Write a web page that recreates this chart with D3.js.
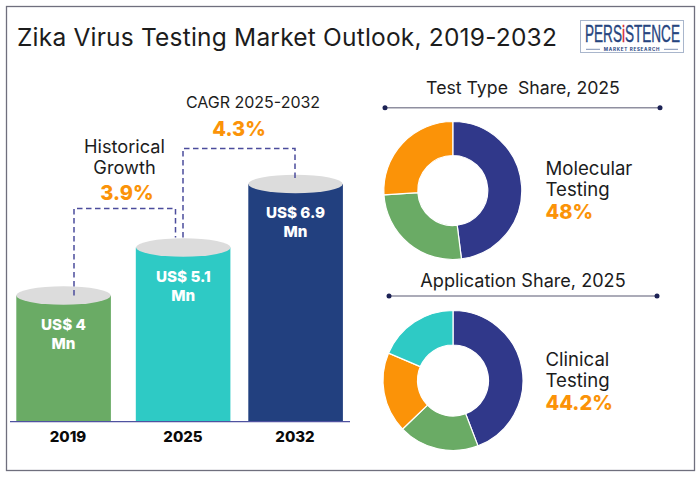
<!DOCTYPE html>
<html>
<head>
<meta charset="utf-8">
<script src="https://cdn.jsdelivr.net/npm/d3@7"></script>
<style>
  html, body { margin: 0; padding: 0; background: #fff; }
  svg { display: block; }
  text { font-family: Inter, "Open Sans", sans-serif; }
</style>
</head>
<body>
<div id="chart"></div>
<script>
'use strict';

// market size, US$ Mn
const years = ["2019", "2025", "2032"];
const marketValues = [4, 5.1, 6.9];
const marketLabels = [["US$ 4", "Mn"], ["US$ 5.1", "Mn"], ["US$ 6.9", "Mn"]];

// test type share, 2025 (%)
const testTypeShares = [48, 26, 26];

// application share, 2025 (%)
const applicationShares = [44.2, 18.6, 18.6, 18.6];

const NAVY = "#30388a", GREEN = "#6aab65", ORANGE = "#fb9308", TEAL = "#2ecac5", DARKBLUE = "#22407f";
const INK = "#1c1c1c";

let svg = d3.select("#chart").append("svg")
    .attr("width", 700)
    .attr("height", 477);

svg.append("rect")
    .attr("x", 6.5).attr("y", 6.5)
    .attr("width", 688).attr("height", 464)
    .attr("fill", "#fff")
    .attr("stroke", "#6f6f7d")
    .attr("stroke-width", 1.3);

function label(x, y, str, opts) {
    opts = opts || {};
    return svg.append("text")
        .attr("x", x).attr("y", y)
        .attr("text-anchor", opts.anchor || "middle")
        .attr("font-size", opts.size || 17)
        .attr("font-weight", opts.weight || 400)
        .attr("letter-spacing", opts.spacing || 0)
        .attr("fill", opts.fill || INK)
        .text(str);
}

label(17, 46, "Zika Virus Testing Market Outlook, 2019-2032", {anchor: "start", size: 24.5, spacing: 0.2});

// logo
svg.append("rect")
    .attr("x", 580.5).attr("y", 20.5)
    .attr("width", 103).attr("height", 32)
    .attr("fill", "#fff")
    .attr("stroke", "#a9b6cc");
let logo = svg.append("text")
    .attr("font-size", 23)
    .attr("fill", "#27457f")
    .attr("stroke", "#27457f")
    .attr("stroke-width", 0.4)
    .style("font-family", "'Liberation Sans Narrow', 'Liberation Sans', sans-serif");
logo.append("tspan").text("PERS");
logo.append("tspan").attr("fill", "#d5262c").attr("stroke", "#d5262c").text("i");
logo.append("tspan").text("STENCE");
// squeeze the wordmark into the logo box
logo.attr("transform", "translate(585,41.7) scale(" + (95 / logo.node().getComputedTextLength()) + ",1)");
svg.append("text")
    .attr("x", 632).attr("y", 50.8)
    .attr("text-anchor", "middle")
    .attr("font-size", 4.6)
    .attr("font-weight", 700)
    .attr("letter-spacing", 0.7)
    .attr("fill", "#27457f")
    .text("MARKET RESEARCH");
[[586, 600], [664, 678]].forEach(function(d) {
    svg.append("line")
        .attr("x1", d[0]).attr("x2", d[1])
        .attr("y1", 49.3).attr("y2", 49.3)
        .attr("stroke", "#27457f")
        .attr("stroke-width", 0.6);
});

// bars: the source drawing is not to a true scale, so the value scale has stops
const baseY = 421.3;
let xLeft = d3.scaleOrdinal().domain(years).range([16.3, 135.8, 248.3]);
let xCenter = d3.scaleOrdinal().domain(years).range([63.5, 183.3, 295.5]);
let y = d3.scaleLinear().domain([0, 4, 5.1, 6.9]).range([baseY, 295.5, 247.5, 184]);
const barWidth = 94.6;
const capRy = 9.2;
const barColor = d3.scaleOrdinal().domain(years).range([GREEN, TEAL, DARKBLUE]);

let bars = svg.append("g").selectAll("g")
    .data(years.map(function(d, i) { return {year: d, value: marketValues[i], text: marketLabels[i]}; }))
    .enter().append("g");

bars.append("rect")
    .attr("x", function(d) { return xLeft(d.year); })
    .attr("y", function(d) { return y(d.value); })
    .attr("width", barWidth)
    .attr("height", function(d) { return baseY - y(d.value); })
    .attr("fill", function(d) { return barColor(d.year); });

bars.append("ellipse")
    .attr("cx", function(d) { return xCenter(d.year); })
    .attr("cy", function(d) { return y(d.value); })
    .attr("rx", barWidth / 2)
    .attr("ry", capRy)
    .attr("fill", "#dcdcdc");

bars.each(function(d) {
    let sel = d3.select(this);
    d.text.forEach(function(t, i) {
        sel.append("text")
            .attr("x", xCenter(d.year))
            .attr("y", y(d.value) + 34.2 + i * 19)
            .attr("text-anchor", "middle")
            .attr("font-size", 15.2)
            .attr("font-weight", 800)
            .attr("fill", "#fff")
            .text(t);
    });
});

svg.append("line")
    .attr("x1", 10).attr("x2", 350)
    .attr("y1", baseY + 0.3).attr("y2", baseY + 0.3)
    .attr("stroke", "#4f52a0")
    .attr("stroke-width", 1.2);

let yearX = [68, 183, 295];
years.forEach(function(d, i) {
    label(yearX[i], 442, d, {size: 15, weight: 800, fill: "#0a0a0a"});
});

// growth connectors
function connector(x1, y1, top, x2, y2) {
    svg.append("path")
        .attr("d", d3.line()([[x1, y1], [x1, top], [x2, top], [x2, y2]]))
        .attr("fill", "none")
        .attr("stroke", "#4b4c9c")
        .attr("stroke-width", 1.5)
        .attr("stroke-dasharray", "5.5 3.5");
}
connector(74, y(marketValues[0]), 208.5, 175.5, y(marketValues[1]) - 10);
connector(183, y(marketValues[1]) - 10, 148.5, 295, y(marketValues[2]) - 5);

label(124.5, 153, "Historical", {size: 18.2});
label(124.5, 173.5, "Growth", {size: 18.2});
label(127, 200, "3.9%", {size: 20, weight: 800, fill: ORANGE});
label(253, 108, "CAGR 2025-2032", {size: 16});
label(239, 136, "4.3%", {size: 20, weight: 800, fill: ORANGE});

// donuts
function donut(cx, cy, outer, inner, values, colors) {
    let arc = d3.arc().innerRadius(inner).outerRadius(outer);
    let pie = d3.pie().sort(null).value(function(d) { return d; });
    svg.append("g")
        .attr("transform", "translate(" + cx + "," + cy + ")")
        .selectAll("path")
        .data(pie(values))
        .enter().append("path")
        .attr("d", arc)
        .attr("fill", function(d, i) { return colors[i]; })
        .attr("stroke", "#fff")
        .attr("stroke-width", 1.2);
}
donut(452.8, 190.5, 69, 35, testTypeShares, [NAVY, GREEN, ORANGE]);
donut(453, 380.5, 70, 35.5, applicationShares, [NAVY, GREEN, ORANGE, TEAL]);

function rule(x1, x2, yy) {
    svg.append("line")
        .attr("x1", x1).attr("x2", x2)
        .attr("y1", yy).attr("y2", yy)
        .attr("stroke", "#8f8fa0")
        .attr("stroke-width", 1.5);
    [x1, x2].forEach(function(x) {
        svg.append("circle").attr("cx", x).attr("cy", yy).attr("r", 2.5).attr("fill", "#1c2255");
    });
}
rule(385, 660, 107.7);
rule(389, 657, 296);

label(523, 94, "Test Type  Share, 2025", {size: 17.7}).style("white-space", "pre");
label(523, 286.5, "Application Share, 2025", {size: 18.1});

label(545.5, 175, "Molecular", {anchor: "start", size: 18.6});
label(545.5, 196, "Testing", {anchor: "start", size: 18.6});
label(545.5, 219, "48%", {anchor: "start", size: 20, weight: 800, fill: ORANGE});
label(545.5, 365.5, "Clinical", {anchor: "start", size: 18.6});
label(545.5, 387, "Testing", {anchor: "start", size: 18.6});
label(545.5, 410, "44.2%", {anchor: "start", size: 20, weight: 800, fill: ORANGE});
</script>
</body>
</html>
